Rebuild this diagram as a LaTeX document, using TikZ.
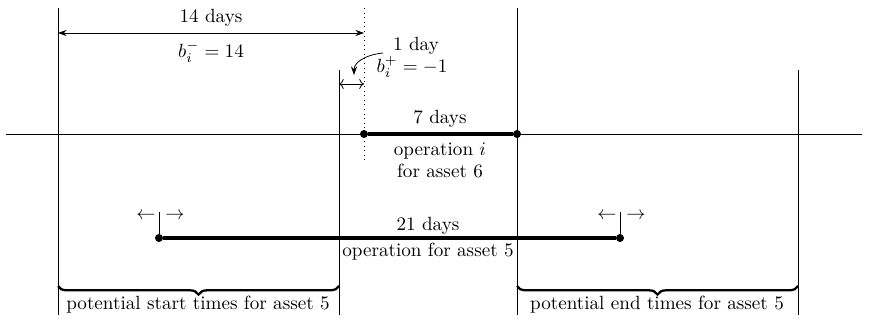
\documentclass[tikz,border=0pt]{standalone}
\usetikzlibrary{arrows.meta,decorations.pathreplacing}
\begin{document}
\begin{tikzpicture}[x=0.523pt,y=-0.523pt,
  thin line/.style={line width=0.4pt},
  op bar/.style={line width=1.6pt},
  op end/.style={circle,fill=black,inner sep=0pt,minimum size=4.2pt},
  lbl/.style={inner sep=1pt},
  stk/.tip={Stealth[length=4.5pt,width=3.2pt]},
  brace/.style={decorate,decoration={brace,mirror,amplitude=4.5pt},line width=1.2pt}]
\useasboundingbox (0,0) rectangle (870,326);

% time axis
\coordinate (axL) at (6,134);
\coordinate (axR) at (862,134);
\draw[thin line] (axL) -- (axR);

% window boundaries
\coordinate (w1t) at (58,8);    \coordinate (w1b) at (58,315);
\coordinate (w2t) at (339,70);  \coordinate (w2b) at (339,315);
\coordinate (w3t) at (517,8);   \coordinate (w3b) at (517,315);
\coordinate (w4t) at (798,70);  \coordinate (w4b) at (798,315);
\draw[thin line] (w1t) -- (w1b);
\draw[thin line] (w2t) -- (w2b);
\draw[thin line] (w3t) -- (w3b);
\draw[thin line] (w4t) -- (w4b);

% start of operation i (dotted)
\coordinate (dt) at (364,8);
\coordinate (db) at (364,160);
\draw[thin line,dotted] (dt) -- (db);

% 14 day offset
\coordinate (a14L) at (58,33);
\coordinate (a14R) at (364,33);
\draw[thin line,stk-stk] (a14L) -- (a14R);
\node[lbl] (t14) at (211,18) {14 days};
\node[lbl] (b14) at (211,52) {$b_i^- = 14$};

% 1 day offset
\coordinate (a1L) at (339,84);
\coordinate (a1R) at (364,84);
\draw[thin line,<->] (a1L) -- (a1R);
\node[inner sep=0pt] (t1) at (416,46) {1 day};
\node[inner sep=0pt] (b1) at (412,67) {$b_i^+ = -1$};
\coordinate (c0) at (383,53);
\coordinate (c1) at (354,75);
\draw[thin line,-stk] (c0) .. controls (364,55) and (354,63) .. (c1);

% operation i for asset 6
\node[op end] (s6) at (364,134) {};
\node[op end] (e6) at (517,134) {};
\draw[op bar] (s6) -- (e6);
\node[lbl] (d6) at (440,119) {7 days};
\node[lbl] (o6) at (440,151) {operation $i$};
\node[lbl] (f6) at (440,171) {for asset 6};

% operation for asset 5
\node[op end] (s5) at (159,238) {};
\node[op end] (e5) at (620,238) {};
\draw[op bar] (s5) -- (e5);
\node[lbl] (d5) at (428,226) {21 days};
\node[lbl] (o5) at (428,252) {operation for asset 5};

% shift marks
\coordinate (m1) at (159,212);
\coordinate (m2) at (620,212);
\draw[thin line] (m1) -- (s5);
\draw[thin line] (m2) -- (e5);
\node[lbl] (l1) at (146,216) {$\leftarrow$};
\node[lbl] (r1) at (175,216) {$\rightarrow$};
\node[lbl] (l2) at (607,216) {$\leftarrow$};
\node[lbl] (r2) at (636,216) {$\rightarrow$};

% start and end windows
\coordinate (bs1) at (58,286);
\coordinate (bs2) at (339,286);
\coordinate (be1) at (517,286);
\coordinate (be2) at (798,286);
\draw[brace] (bs1) -- (bs2);
\draw[brace] (be1) -- (be2);
\node[lbl] (ps) at (198,305) {potential start times for asset 5};
\node[lbl] (pe) at (657,305) {potential end times for asset 5};
\end{tikzpicture}
\end{document}
